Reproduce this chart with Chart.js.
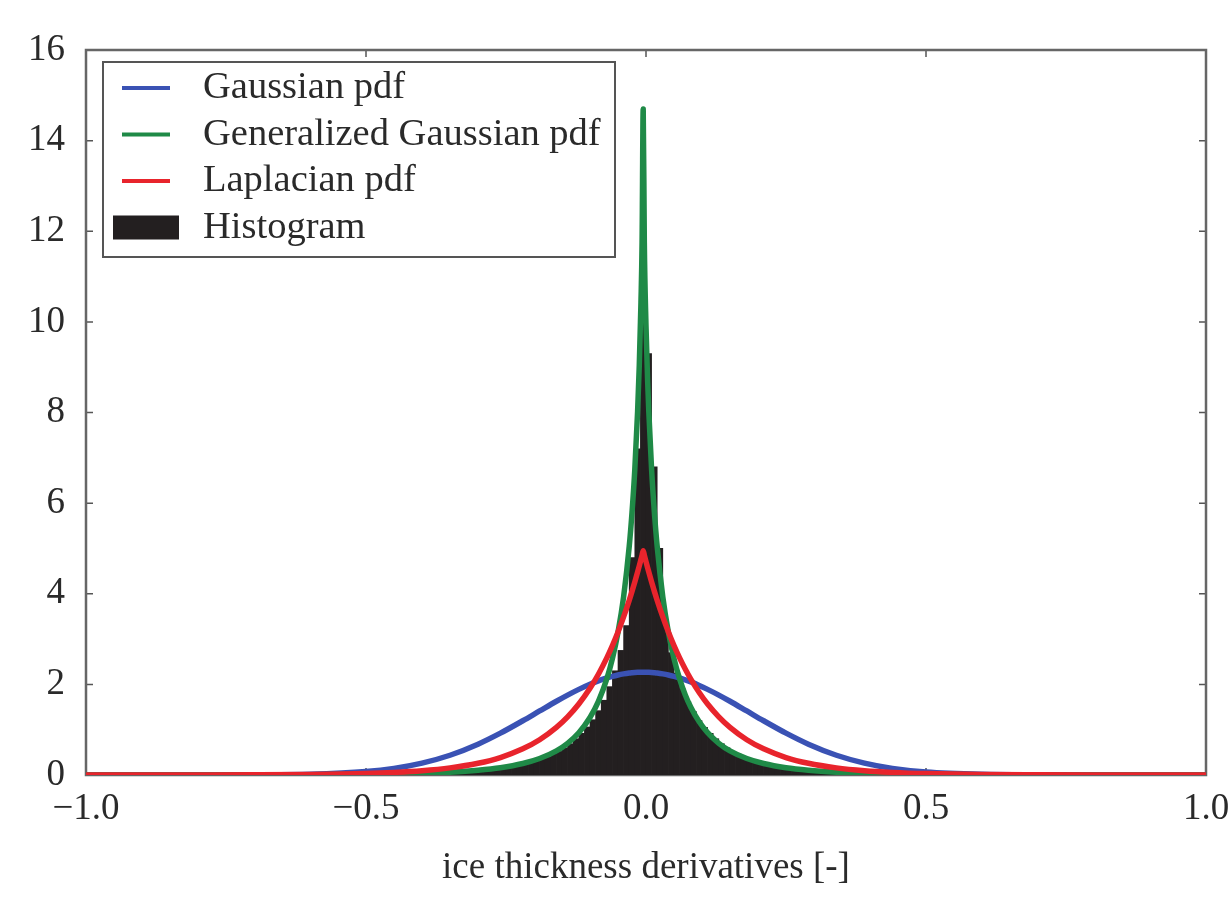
<!DOCTYPE html>
<html>
<head>
<meta charset="utf-8">
<script src="https://cdn.jsdelivr.net/npm/chart.js@4.4.1/dist/chart.umd.min.js"></script>
<style>
html,body{margin:0;padding:0;background:#fff;}
#wrap{width:1229px;height:900px;position:relative;}
</style>
</head>
<body>
<div id="wrap"><canvas id="c" width="1229" height="900"></canvas></div>
<script>
// ---------- data ----------
const xAxisTitle = 'ice thickness derivatives [-]';
const xTickValues = [-1.0, -0.5, 0.0, 0.5, 1.0];
const xTickLabels = ['\u22121.0', '\u22120.5', '0.0', '0.5', '1.0'];
const yTickValues = [0, 2, 4, 6, 8, 10, 12, 14, 16];
const yTickLabels = ['0', '2', '4', '6', '8', '10', '12', '14', '16'];

const seriesLabels = ['Gaussian pdf', 'Generalized Gaussian pdf', 'Laplacian pdf', 'Histogram'];

const curveX = [-1.0, -0.9, -0.8, -0.7, -0.6, -0.5, -0.45, -0.4, -0.35, -0.3,
  -0.26, -0.22, -0.19, -0.16, -0.14, -0.12, -0.1, -0.085, -0.07, -0.06,
  -0.05, -0.04, -0.03, -0.025, -0.02, -0.015, -0.012, -0.009, -0.007, -0.005,
  -0.003, 0.0, 0.003, 0.005, 0.01, 0.015, 0.02, 0.03, 0.04, 0.05,
  0.06, 0.07, 0.08, 0.095, 0.11, 0.13, 0.15, 0.18, 0.21, 0.25,
  0.29, 0.34, 0.39, 0.44, 0.5, 0.6, 0.7, 0.8, 0.9, 1.0];

const gaussianPdf = [0, 0, 0.0004, 0.003, 0.017, 0.077, 0.146, 0.262, 0.436, 0.680,
  0.923, 1.197, 1.413, 1.628, 1.764, 1.890, 2.003, 2.078, 2.141, 2.177,
  2.207, 2.231, 2.250, 2.257, 2.263, 2.267, 2.268, 2.27, 2.27, 2.27,
  2.27, 2.27, 2.268, 2.267, 2.263, 2.257, 2.250, 2.231, 2.207, 2.177,
  2.141, 2.100, 2.054, 1.977, 1.890, 1.764, 1.628, 1.413, 1.197, 0.923,
  0.680, 0.436, 0.262, 0.146, 0.066, 0.014, 0.002, 0, 0, 0];

const genGaussianPdf = [0.0004, 0.0008, 0.0016, 0.0033, 0.0071, 0.0162, 0.025, 0.039, 0.063, 0.105,
  0.160, 0.253, 0.363, 0.533, 0.700, 0.934, 1.27, 1.626, 2.121, 2.567,
  3.149, 3.932, 5.04, 5.79, 6.74, 8.02, 9.04, 10.43, 11.76, 14.7,
  11.76, 9.91, 8.67, 8.02, 6.74, 5.79, 5.04, 3.932, 3.149, 2.567,
  2.121, 1.773, 1.495, 1.173, 0.934, 0.700, 0.533, 0.363, 0.253, 0.160,
  0.105, 0.063, 0.039, 0.025, 0.0148, 0.0065, 0.003, 0.0015, 0.0007, 0.0004];

const laplacianPdf = [0.0002, 0.0006, 0.0017, 0.0047, 0.013, 0.035, 0.058, 0.095, 0.157, 0.259,
  0.386, 0.577, 0.778, 1.05, 1.283, 1.567, 1.914, 2.224, 2.584, 2.856,
  3.156, 3.488, 3.855, 4.053, 4.261, 4.479, 4.615, 4.756, 4.852, 4.95,
  4.852, 4.709, 4.569, 4.479, 4.261, 4.053, 3.855, 3.488, 3.156, 2.856,
  2.584, 2.338, 2.116, 1.821, 1.567, 1.283, 1.05, 0.778, 0.577, 0.386,
  0.259, 0.157, 0.095, 0.058, 0.032, 0.0117, 0.0043, 0.0016, 0.0006, 0.0002];

const histX = [-0.495, -0.485, -0.475, -0.465, -0.455, -0.445, -0.435, -0.425, -0.415, -0.405,
  -0.395, -0.385, -0.375, -0.365, -0.355, -0.345, -0.335, -0.325, -0.315, -0.305,
  -0.295, -0.285, -0.275, -0.265, -0.255, -0.245, -0.235, -0.225, -0.215, -0.205,
  -0.195, -0.185, -0.175, -0.165, -0.155, -0.145, -0.135, -0.125, -0.115, -0.105,
  -0.095, -0.085, -0.075, -0.065, -0.055, -0.045, -0.035, -0.025, -0.015, -0.005,
  0.005, 0.015, 0.025, 0.035, 0.045, 0.055, 0.065, 0.075, 0.085, 0.095,
  0.105, 0.115, 0.125, 0.135, 0.145, 0.155, 0.165, 0.175, 0.185, 0.195,
  0.205, 0.215, 0.225, 0.235, 0.245, 0.255, 0.265, 0.275, 0.285, 0.295,
  0.305, 0.315, 0.325, 0.335, 0.345, 0.355, 0.365, 0.375, 0.385, 0.395,
  0.405, 0.415, 0.425, 0.435, 0.445, 0.455, 0.465, 0.475, 0.485, 0.495];

const histY = [0.015, 0.017, 0.018, 0.020, 0.022, 0.024, 0.026, 0.028, 0.031, 0.034,
  0.037, 0.041, 0.045, 0.050, 0.055, 0.060, 0.067, 0.074, 0.082, 0.090,
  0.100, 0.113, 0.125, 0.140, 0.155, 0.175, 0.195, 0.220, 0.250, 0.280,
  0.315, 0.355, 0.400, 0.460, 0.520, 0.600, 0.690, 0.800, 0.920, 1.060,
  1.220, 1.420, 1.650, 1.950, 2.300, 2.750, 3.300, 4.800, 7.200, 11.30,
  9.300, 6.800, 5.000, 3.300, 2.700, 2.250, 1.900, 1.620, 1.400, 1.200,
  1.050, 0.920, 0.800, 0.690, 0.600, 0.520, 0.460, 0.400, 0.355, 0.315,
  0.280, 0.250, 0.220, 0.195, 0.175, 0.155, 0.140, 0.125, 0.113, 0.100,
  0.090, 0.082, 0.074, 0.067, 0.060, 0.055, 0.050, 0.045, 0.041, 0.037,
  0.034, 0.031, 0.028, 0.026, 0.024, 0.022, 0.020, 0.018, 0.017, 0.015];

// ---------- styling ----------
const FONT = "'Liberation Serif', 'Times New Roman', serif";
const TXT = '#2a2a2a';
const COLORS = { gauss: '#3a52b4', gen: '#1f8a47', lap: '#e8242c', hist: '#231f20' };

const pts = (xs, ys) => xs.map((x, i) => ({ x: x, y: ys[i] }));

const framePlugin = {
  id: 'frame',
  beforeDatasetsDraw(chart) {
    const { ctx, chartArea: a, scales } = chart;
    ctx.save();
    ctx.strokeStyle = '#555';
    ctx.lineWidth = 1.5;
    const tl = 7;
    scales.x.ticks.forEach(t => {
      const px = scales.x.getPixelForValue(t.value);
      ctx.beginPath();
      ctx.moveTo(px, a.bottom); ctx.lineTo(px, a.bottom - tl);
      ctx.moveTo(px, a.top); ctx.lineTo(px, a.top + tl);
      ctx.stroke();
    });
    scales.y.ticks.forEach(t => {
      const py = scales.y.getPixelForValue(t.value);
      ctx.beginPath();
      ctx.moveTo(a.left, py); ctx.lineTo(a.left + tl, py);
      ctx.moveTo(a.right, py); ctx.lineTo(a.right - tl, py);
      ctx.stroke();
    });
    ctx.strokeStyle = '#666';
    ctx.lineWidth = 2.5;
    ctx.strokeRect(a.left, a.top, a.right - a.left, a.bottom - a.top);
    ctx.restore();
  }
};

const legendPlugin = {
  id: 'innerLegend',
  afterDatasetsDraw(chart) {
    const { ctx, chartArea: a } = chart;
    const x0 = a.left + 17, y0 = a.top + 12, w = 512, h = 195;
    ctx.save();
    ctx.fillStyle = '#fff';
    ctx.fillRect(x0, y0, w, h);
    ctx.strokeStyle = '#555';
    ctx.lineWidth = 2;
    ctx.strokeRect(x0, y0, w, h);
    ctx.font = '38.5px ' + FONT;
    ctx.textBaseline = 'middle';
    ctx.textAlign = 'left';
    chart.data.datasets.forEach((ds, i) => {
      const cy = y0 + 26 + i * 46.5;
      if (ds.type === 'bar') {
        ctx.fillStyle = ds.backgroundColor;
        ctx.fillRect(x0 + 10, cy - 12, 66, 24);
      } else {
        ctx.strokeStyle = ds.borderColor;
        ctx.lineWidth = 4;
        ctx.beginPath();
        ctx.moveTo(x0 + 19, cy); ctx.lineTo(x0 + 67, cy);
        ctx.stroke();
      }
      ctx.fillStyle = TXT;
      ctx.fillText(ds.label, x0 + 100, cy);
    });
    ctx.restore();
  }
};

const lineCommon = { type: 'line', borderWidth: 5.5, pointRadius: 0, fill: false,
  cubicInterpolationMode: 'monotone', borderJoinStyle: 'round', borderCapStyle: 'round' };

new Chart(document.getElementById('c').getContext('2d'), {
  type: 'scatter',
  data: {
    datasets: [
      Object.assign({}, lineCommon, { label: seriesLabels[0], data: pts(curveX, gaussianPdf), borderColor: COLORS.gauss, order: 2 }),
      Object.assign({}, lineCommon, { label: seriesLabels[1], data: pts(curveX, genGaussianPdf), borderColor: COLORS.gen, order: 1 }),
      Object.assign({}, lineCommon, { label: seriesLabels[2], data: pts(curveX, laplacianPdf), borderColor: COLORS.lap, order: 0 }),
      { type: 'bar', label: seriesLabels[3], data: pts(histX, histY), backgroundColor: COLORS.hist,
        borderWidth: 0, barPercentage: 1, categoryPercentage: 1, order: 3 }
    ]
  },
  options: {
    responsive: false,
    animation: false,
    devicePixelRatio: 1,
    layout: { padding: { top: 50, right: 23, left: 0, bottom: 0 } },
    plugins: { legend: { display: false }, tooltip: { enabled: false } },
    scales: {
      x: {
        type: 'linear', min: -1, max: 1, offset: false,
        grid: { display: false, drawTicks: false },
        border: { display: false },
        afterBuildTicks: s => { s.ticks = xTickValues.map(v => ({ value: v })); },
        ticks: { callback: (v, i) => xTickLabels[i], font: { family: FONT, size: 37 }, color: TXT,
                 padding: 12, maxRotation: 0, autoSkip: false },
        title: { display: true, text: xAxisTitle, font: { family: FONT, size: 37 }, color: TXT,
                 padding: { top: 0, bottom: 10 } },
        afterFit: s => { s.height = 125; s.paddingLeft = 0; s.paddingRight = 0; }
      },
      y: {
        type: 'linear', min: 0, max: 16,
        grid: { display: false, drawTicks: false },
        border: { display: false },
        afterBuildTicks: s => { s.ticks = yTickValues.map(v => ({ value: v })); },
        ticks: { callback: (v, i) => yTickLabels[i], font: { family: FONT, size: 37 }, color: TXT,
                 padding: 21, autoSkip: false },
        afterFit: s => { s.width = 86; s.paddingTop = 0; s.paddingBottom = 0; }
      }
    }
  },
  plugins: [framePlugin, legendPlugin]
});
</script>
</body>
</html>
